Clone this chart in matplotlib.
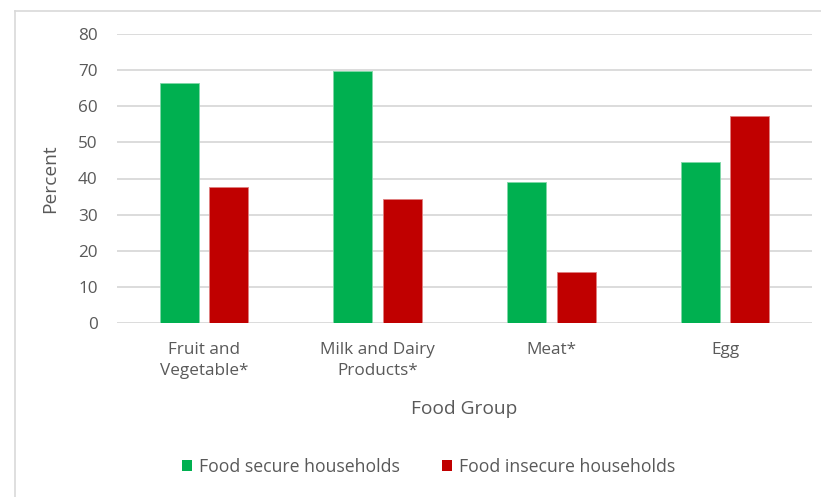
import matplotlib
matplotlib.use("Agg")
import matplotlib.pyplot as plt
import numpy as np
from matplotlib.lines import Line2D
from matplotlib.patches import Patch

categories = ["Fruit and\nVegetable*", "Milk and Dairy\nProducts*", "Meat*", "Egg"]
food_secure = [66.4, 69.7, 38.9, 44.7]
food_insecure = [37.6, 34.2, 14.0, 57.4]
series_names = ["Food secure households", "Food insecure households"]
yticks = [0, 10, 20, 30, 40, 50, 60, 70, 80]

plt.rcParams['font.family'] = ['Open Sans', 'DejaVu Sans']
TXT = '#595959'
GRID = '#D9D9D9'
GREEN = '#00B050'
RED = '#C00000'
FS = 12.3
FT = 13.8

W, H = 821, 497
fig = plt.figure(figsize=(W / 100, H / 100), dpi=100)
fig.patch.set_facecolor('white')

left, right = 117 / W, 812 / W
bottom, top = 1 - 322.7 / H, 1 - 34.3 / H
ax = fig.add_axes([left, bottom, right - left, top - bottom])

x = np.arange(len(categories))
bw = 0.225
off = 0.142
ax.bar(x - off, food_secure, width=bw, color=GREEN, edgecolor='#7fd7a7', linewidth=0.6, zorder=3)
ax.bar(x + off, food_insecure, width=bw, color=RED, edgecolor='#e07f7f', linewidth=0.6, zorder=3)

ax.set_xlim(-0.5, len(categories) - 0.5)
ax.set_ylim(0, 80)
ax.set_yticks(yticks)
ax.set_yticklabels([str(v) for v in yticks], fontsize=FS, color=TXT)
ax.yaxis.grid(True, color=GRID, linewidth=1.3, zorder=0)
ax.set_axisbelow(True)
for s in ax.spines.values():
    s.set_visible(False)
ax.tick_params(axis='both', length=0)
ax.tick_params(axis='y', pad=14)
ax.set_xticks(x)
ax.set_xticklabels(categories, fontsize=FS, color=TXT, linespacing=1.42)
ax.tick_params(axis='x', pad=14)

ax.set_ylabel("Percent", fontsize=FT, color=TXT)
ax.yaxis.set_label_coords((59 - 117) / (812 - 117), 0.5)
fig.text(0.5 * (117 + 812) / W, 1 - 409 / H, "Food Group", fontsize=FT, color=TXT,
         ha='center', va='center')

handles = [Patch(facecolor=GREEN, edgecolor='none'), Patch(facecolor=RED, edgecolor='none')]
leg = fig.legend(handles, series_names, loc='center', bbox_to_anchor=(428.5 / W, 1 - 467 / H),
                 ncol=2, frameon=False, fontsize=12.7, handlelength=0.55, handleheight=0.6,
                 handletextpad=0.4, columnspacing=2.4)
for t in leg.get_texts():
    t.set_color(TXT)

# chart border
fig.add_artist(Line2D([15 / W, 15 / W], [0, 1 - 11 / H], transform=fig.transFigure, color=GRID, linewidth=1.2))
fig.add_artist(Line2D([15 / W, 1], [1 - 11 / H, 1 - 11 / H], transform=fig.transFigure, color=GRID, linewidth=1.2))

fig.savefig("out.png", dpi=100, facecolor='white')
